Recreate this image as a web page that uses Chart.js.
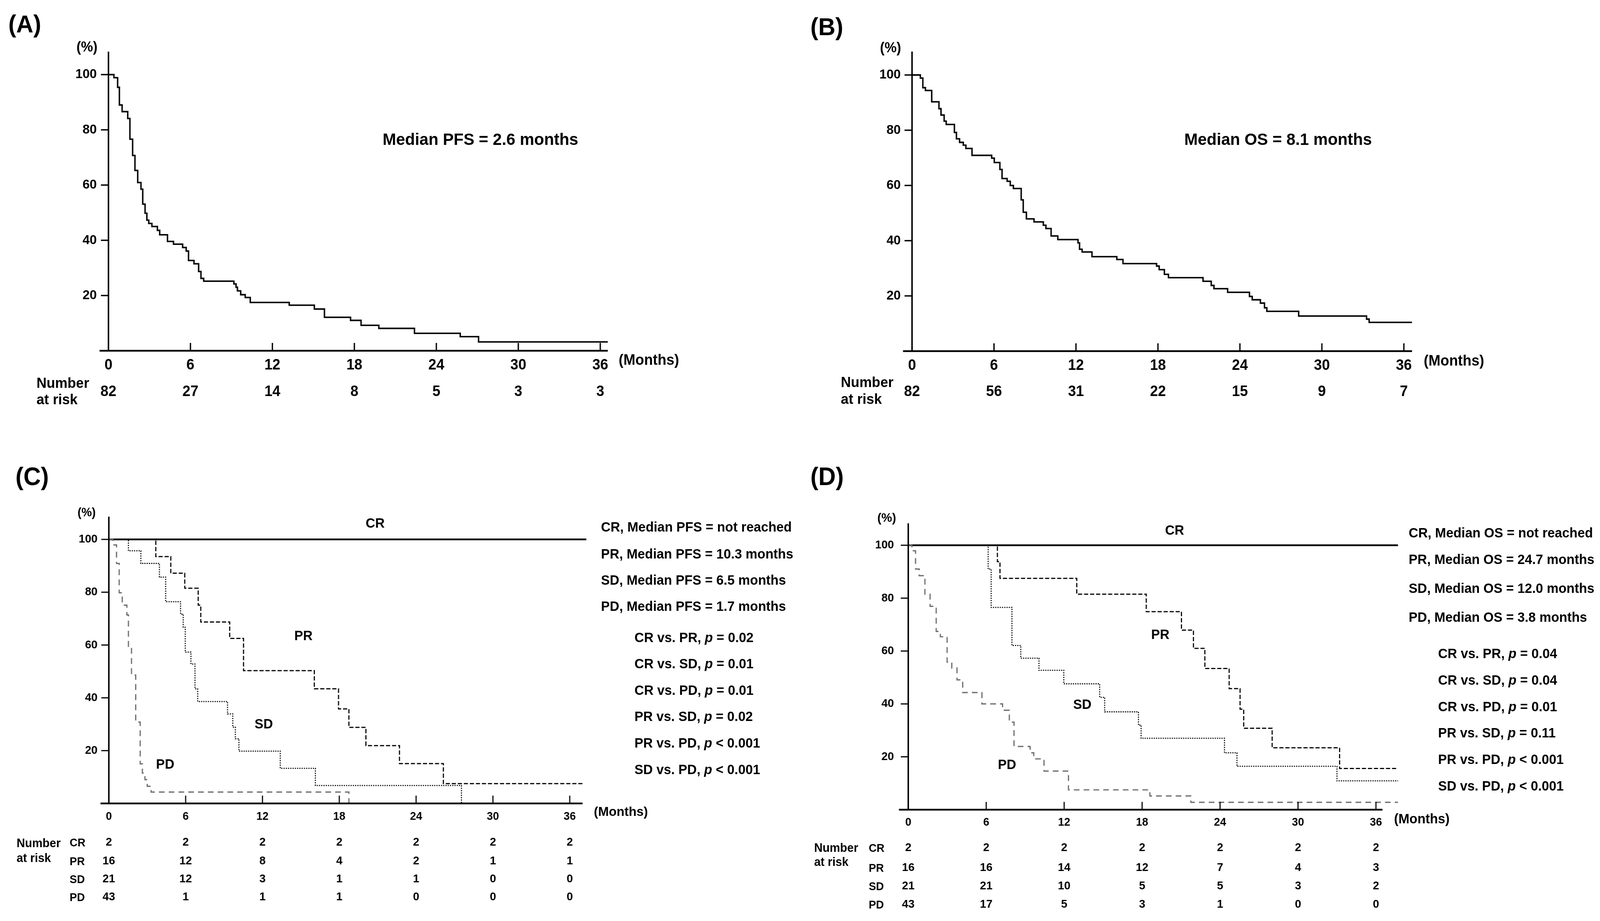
<!DOCTYPE html>
<html>
<head>
<meta charset="utf-8">
<title>Kaplan-Meier curves</title>
<script src="https://cdn.jsdelivr.net/npm/chart.js@4.4.1/dist/chart.umd.min.js"></script>
<style>
  html, body { margin: 0; padding: 0; background: #fff; overflow: hidden; }
  #page { position: relative; width: 4249px; height: 2358px; overflow: hidden; background: #fff; transform-origin: 0 0; }
  #page canvas { position: absolute; }
  .t { position: absolute; font-family: 'Liberation Sans', Arial, sans-serif; font-weight: bold;
       line-height: 1; white-space: nowrap; color: #000; }
</style>
</head>
<body>
<div id="page">
  <canvas id="chartA"></canvas>
  <canvas id="chartB"></canvas>
  <canvas id="chartC"></canvas>
  <canvas id="chartD"></canvas>
</div>
<script>
/* ---------------- data ---------------- */

const TICKS_X = [0, 6, 12, 18, 24, 30, 36];
const TICKS_Y = [20, 40, 60, 80, 100];

// (A) PFS, all patients
const pfsAllTime = [0, 0.40, 0.67, 0.80, 1.00, 1.41, 1.57, 1.77, 1.94, 2.14, 2.38, 2.51, 2.68, 2.81, 2.95,
  3.18, 3.58, 3.75, 4.32, 4.76, 5.43, 5.69, 5.86, 6.26, 6.60, 6.77, 6.97, 9.18, 9.34, 9.44, 9.68,
  10.01, 10.38, 13.23, 15.07, 15.81, 17.72, 18.49, 19.79, 22.40, 25.75, 27.09, 36.55];
const pfsAllSurv = [100, 98.9, 95.4, 89.0, 86.6, 84.1, 76.6, 70.7, 65.3, 60.9, 58.5, 53.1, 49.8, 47.3, 46.1,
  45.0, 43.6, 42.0, 39.6, 38.6, 37.4, 36.1, 32.7, 31.5, 28.7, 26.2, 25.2, 24.2, 23.0, 21.7, 20.3,
  19.3, 17.5, 16.5, 15.1, 12.1, 11.0, 9.2, 8.1, 6.3, 5.1, 3.2, 3.2];
const pfsAllRisk = [82, 27, 14, 8, 5, 3, 3];

// (B) OS, all patients
const osAllTime = [0, 0.61, 0.79, 0.98, 1.44, 1.97, 2.12, 2.35, 2.50, 3.10, 3.25, 3.48, 3.75, 3.94, 4.39,
  5.83, 6.02, 6.43, 6.59, 6.96, 7.19, 7.42, 7.99, 8.14, 8.37, 8.93, 9.61, 9.80, 10.18, 10.67, 12.15,
  12.26, 12.45, 13.17, 14.99, 15.44, 17.90, 18.09, 18.47, 18.77, 21.30, 21.90, 22.10, 23.10, 24.70,
  24.90, 25.50, 25.80, 25.97, 28.30, 33.27, 33.46, 36.60];
const osAllSurv = [100, 98.9, 95.4, 94.4, 90.3, 87.8, 85.5, 83.3, 82.1, 79.2, 76.9, 75.6, 74.6, 73.4, 70.9,
  69.9, 68.3, 65.8, 62.5, 61.5, 60.0, 58.9, 54.8, 50.3, 47.9, 46.8, 45.6, 44.4, 41.7, 40.4, 39.2,
  36.9, 35.9, 34.2, 33.2, 31.7, 30.8, 29.5, 27.8, 26.6, 25.3, 23.8, 22.6, 21.3, 19.8,
  18.6, 17.4, 15.7, 14.4, 12.7, 11.6, 10.4, 10.4];
const osAllRisk = [82, 56, 31, 22, 15, 9, 7];

// (C) PFS by response
const pfsCrTime = [0, 37.3];
const pfsCrSurv = [100, 100];
const pfsPrTime = [0, 3.67, 4.84, 5.93, 6.98, 7.18, 9.44, 10.52, 16.05, 17.94, 18.75, 20.08, 22.70, 26.13, 37.1];
const pfsPrSurv = [100, 93.5, 87.2, 81.5, 75.1, 68.7, 62.5, 50.3, 43.4, 35.8, 28.8, 21.9, 15.1, 7.5, 7.5];
const pfsSdTime = [0, 1.53, 2.50, 3.95, 4.44, 5.60, 5.81, 5.97, 6.41, 6.73, 6.94, 9.27, 9.68, 9.88, 10.16, 13.39, 16.13, 27.54];
const pfsSdSurv = [100, 95.7, 90.9, 85.7, 76.4, 71.7, 66.7, 57.3, 52.8, 43.4, 38.6, 33.9, 28.9, 24.5, 19.8, 13.3, 6.8, 0];
const pfsPdTime = [0, 0.32, 0.60, 0.81, 1.05, 1.41, 1.53, 1.77, 2.10, 2.45, 2.62, 2.82, 3.00, 3.30, 18.75];
const pfsPdSurv = [100, 97.9, 90.9, 79.8, 75.1, 71.4, 59.5, 48.6, 30.8, 15.0, 11.5, 9.0, 6.5, 4.3, 0];
const pfsRiskCr = [2, 2, 2, 2, 2, 2, 2];
const pfsRiskPr = [16, 12, 8, 4, 2, 1, 1];
const pfsRiskSd = [21, 12, 3, 1, 1, 0, 0];
const pfsRiskPd = [43, 1, 1, 1, 0, 0, 0];

// (D) OS by response
const osCrTime = [0, 37.7];
const osCrSurv = [100, 100];
const osPrTime = [0, 6.86, 7.06, 12.97, 18.32, 21.03, 21.95, 22.83, 24.70, 25.54, 25.82, 28.01, 33.20, 37.7];
const osPrSurv = [100, 93.8, 87.5, 81.5, 74.9, 67.9, 61.0, 53.4, 45.8, 38.0, 30.8, 23.4, 15.6, 15.6];
const osSdTime = [0, 6.15, 6.38, 7.98, 8.66, 10.06, 11.97, 14.73, 15.12, 17.72, 17.92, 24.34, 25.30, 33.00, 37.7];
const osSdSurv = [100, 91.0, 76.5, 62.1, 57.3, 52.7, 47.6, 42.5, 37.0, 32.0, 27.0, 21.5, 16.4, 10.9, 10.9];
const osPdTime = [0, 0.28, 0.56, 0.84, 1.28, 1.68, 2.15, 2.47, 2.99, 3.35, 3.75, 4.19, 5.67, 7.26, 7.78, 8.14,
  9.38, 9.66, 10.45, 12.33, 18.60, 21.75, 37.7];
const osPdSurv = [100, 97.9, 91.0, 88.5, 81.5, 76.9, 67.4, 65.4, 55.8, 53.6, 49.1, 44.3, 40.0, 37.6, 33.1, 23.9,
  21.5, 19.2, 14.6, 7.5, 5.2, 2.8, 2.8];
const osRiskCr = [2, 2, 2, 2, 2, 2, 2];
const osRiskPr = [16, 16, 14, 12, 7, 4, 3];
const osRiskSd = [21, 21, 10, 5, 5, 3, 2];
const osRiskPd = [43, 17, 5, 3, 1, 0, 0];

const groups = ['CR', 'PR', 'SD', 'PD'];
const pairs = ['CR vs. PR', 'CR vs. SD', 'CR vs. PD', 'PR vs. SD', 'PR vs. PD', 'SD vs. PD'];
const pfsMedians = ['not reached', '10.3 months', '6.5 months', '1.7 months'];
const osMedians = ['not reached', '24.7 months', '12.0 months', '3.8 months'];
const pfsPValues = ['= 0.02', '= 0.01', '= 0.01', '= 0.02', '< 0.001', '< 0.001'];
const osPValues = ['= 0.04', '= 0.04', '= 0.01', '= 0.11', '< 0.001', '< 0.001'];

/* ---------------- layout (page pixels) ---------------- */

const FONT = '"Liberation Sans", Arial, sans-serif';

// stretch the 4249 x 2358 page over the whole viewport
const vw = document.documentElement.clientWidth || window.innerWidth;
const vh = document.documentElement.clientHeight || window.innerHeight;
const fitX = vw / 4249, fitY = vh / 2358;
if (fitX > 0 && fitY > 0 && (Math.abs(fitX - 1) > 0.002 || Math.abs(fitY - 1) > 0.002)) {
  document.getElementById('page').style.transform = `scale(${fitX}, ${fitY})`;
}

const geoA = { left: 0, top: 0, w: 2100, h: 1150, x0: 288, ppm: 36.28, xMin: -0.65, xMax: 36.55, axisEnd: 36.55,
  y0: 898, ppu: 7.07, yMax: 108.3, yGap: 31, xPad: 15, xFont: 38, yFont: 34, tickLen: 20, axisW: 4, tickW: 3.5,
  riskFont: 38, riskY: [1004] };
const geoB = { left: 2100, top: 0, w: 2149, h: 1150, x0: 2422, ppm: 36.28, xMin: -0.66, xMax: 36.6, axisEnd: 36.6,
  y0: 899, ppu: 7.07, yMax: 108.5, yGap: 30, xPad: 15, xFont: 38, yFont: 34, tickLen: 20, axisW: 4, tickW: 3.5,
  riskFont: 38, riskY: [1004] };
const geoC = { left: 0, top: 1150, w: 2100, h: 1208, x0: 289, ppm: 34.0, xMin: -0.65, xMax: 37.3, axisEnd: 37.0,
  y0: 2057, ppu: 6.76, yMax: 108.6, yGap: 30, xPad: 17, xFont: 29, yFont: 30, tickLen: 20, axisW: 4, tickW: 3,
  riskFont: 30, riskY: [2157, 2205, 2251, 2297] };
const geoD = { left: 2100, top: 1150, w: 2149, h: 1208, x0: 2412, ppm: 34.5, xMin: -0.72, xMax: 37.7, axisEnd: 36.5,
  y0: 2073, ppu: 6.77, yMax: 108.3, yGap: 38, xPad: 16, xFont: 29, yFont: 30, tickLen: 20, axisW: 4, tickW: 3,
  riskFont: 30, riskY: [2171, 2222, 2269, 2316] };

const solidStyle = { borderColor: '#000', borderWidth: 3.8 };
const crStyle = { borderColor: '#000', borderWidth: 4.5 };
const prStyle = { borderColor: '#000', borderWidth: 3, borderDash: [11, 5] };
const sdStyle = { borderColor: '#000', borderWidth: 2.8, borderDash: [3, 3] };
const pdStyle = { borderColor: '#6e6e6e', borderWidth: 3.2, borderDash: [15, 11] };

/* ---------------- helpers ---------------- */

function kmPoints(times, surv) {
  return times.map((t, i) => ({ x: t, y: surv[i] }));
}

function curve(times, surv, style) {
  return Object.assign({
    data: kmPoints(times, surv),
    stepped: 'before',
    pointRadius: 0,
    pointHoverRadius: 0,
    fill: false,
    tension: 0
  }, style);
}

function kmAxes(g, risk, labels) {
  return {
    id: 'kmAxes',
    afterDatasetsDraw(chart) {
      const { ctx, scales: { x, y } } = chart;
      const px0 = x.getPixelForValue(0);
      const py0 = y.getPixelForValue(0);

      ctx.save();
      ctx.strokeStyle = '#000';
      ctx.lineCap = 'butt';

      // axes lines
      ctx.lineWidth = g.axisW;
      ctx.beginPath();
      ctx.moveTo(px0, py0 + g.axisW / 2);
      ctx.lineTo(px0, y.getPixelForValue(g.yMax));
      ctx.stroke();
      ctx.lineWidth = g.axisW + 0.5;
      ctx.beginPath();
      ctx.moveTo(x.getPixelForValue(g.xMin), py0);
      ctx.lineTo(x.getPixelForValue(g.axisEnd), py0);
      ctx.stroke();

      // tick marks: y outward, x inward
      ctx.lineWidth = g.tickW;
      TICKS_Y.forEach(v => {
        const py = y.getPixelForValue(v);
        ctx.beginPath();
        ctx.moveTo(px0 - g.tickLen, py);
        ctx.lineTo(px0, py);
        ctx.stroke();
      });
      TICKS_X.slice(1).forEach(v => {
        const px = x.getPixelForValue(v);
        ctx.beginPath();
        ctx.moveTo(px, py0);
        ctx.lineTo(px, py0 - g.tickLen);
        ctx.stroke();
      });

      // numbers at risk, under each tick
      ctx.fillStyle = '#000';
      ctx.textAlign = 'center';
      ctx.textBaseline = 'middle';
      ctx.font = `bold ${g.riskFont}px ${FONT}`;
      risk.forEach((row, r) => {
        row.forEach((n, i) => ctx.fillText(String(n), x.getPixelForValue(TICKS_X[i]), g.riskY[r] - g.top));
      });

      // curve labels
      ctx.font = `bold 35px ${FONT}`;
      labels.forEach(l => ctx.fillText(l.text, x.getPixelForValue(l.x), y.getPixelForValue(l.y)));
      ctx.restore();
    }
  };
}

function buildChart(id, g, datasets, risk, labels) {
  const canvas = document.getElementById(id);
  canvas.width = g.w;
  canvas.height = g.h;
  canvas.style.left = g.left + 'px';
  canvas.style.top = g.top + 'px';
  canvas.style.width = g.w + 'px';
  canvas.style.height = g.h + 'px';

  const AX_W = 100, AX_H = 60;
  const x0 = g.x0 - g.left;
  const y0 = g.y0 - g.top;
  const chartLeft = x0 + g.xMin * g.ppm;
  const chartRight = x0 + g.xMax * g.ppm;
  const chartTop = y0 - g.yMax * g.ppu;

  return new Chart(canvas, {
    type: 'line',
    data: { datasets },
    options: {
      responsive: false,
      animation: false,
      devicePixelRatio: 1,
      events: [],
      layout: {
        padding: { left: chartLeft - AX_W, right: g.w - chartRight, top: chartTop, bottom: g.h - y0 - AX_H }
      },
      plugins: { legend: { display: false }, tooltip: { enabled: false }, title: { display: false } },
      scales: {
        x: {
          type: 'linear', min: g.xMin, max: g.xMax,
          grid: { display: false, drawTicks: false },
          border: { display: false },
          ticks: { autoSkip: false, maxRotation: 0, padding: g.xPad, color: '#000',
                   font: { family: FONT, size: g.xFont, weight: 'bold' } },
          afterBuildTicks: s => { s.ticks = TICKS_X.map(v => ({ value: v })); },
          afterFit: s => { s.height = AX_H; }
        },
        y: {
          type: 'linear', min: 0, max: g.yMax,
          grid: { display: false, drawTicks: false },
          border: { display: false },
          ticks: { padding: g.xMin * g.ppm + g.yGap, color: '#000',
                   font: { family: FONT, size: g.yFont, weight: 'bold' } },
          afterBuildTicks: s => { s.ticks = TICKS_Y.map(v => ({ value: v })); },
          afterFit: s => { s.width = AX_W; }
        }
      }
    },
    plugins: [kmAxes(g, risk, labels)]
  });
}

function addText(html, left, capY, size, extraStyle) {
  const el = document.createElement('div');
  el.className = 't';
  el.innerHTML = html;
  el.style.left = left + 'px';
  el.style.top = (capY - 0.488 * size) + 'px';
  el.style.fontSize = size + 'px';
  if (extraStyle) Object.assign(el.style, extraStyle);
  document.getElementById('page').appendChild(el);
}

/* ---------------- charts ---------------- */

buildChart('chartA', geoA, [curve(pfsAllTime, pfsAllSurv, solidStyle)], [pfsAllRisk], []);
buildChart('chartB', geoB, [curve(osAllTime, osAllSurv, solidStyle)], [osAllRisk], []);

buildChart('chartC', geoC, [
  curve(pfsPdTime, pfsPdSurv, pdStyle),
  curve(pfsSdTime, pfsSdSurv, sdStyle),
  curve(pfsPrTime, pfsPrSurv, prStyle),
  curve(pfsCrTime, pfsCrSurv, crStyle)
], [pfsRiskCr, pfsRiskPr, pfsRiskSd, pfsRiskPd], [
  { text: 'CR', x: 20.8, y: 105.8 },
  { text: 'PR', x: 15.2, y: 63.2 },
  { text: 'SD', x: 12.1, y: 29.8 },
  { text: 'PD', x: 4.4, y: 14.6 }
]);

buildChart('chartD', geoD, [
  curve(osPdTime, osPdSurv, pdStyle),
  curve(osSdTime, osSdSurv, sdStyle),
  curve(osPrTime, osPrSurv, prStyle),
  curve(osCrTime, osCrSurv, crStyle)
], [osRiskCr, osRiskPr, osRiskSd, osRiskPd], [
  { text: 'CR', x: 20.5, y: 105.4 },
  { text: 'PR', x: 19.4, y: 66.0 },
  { text: 'SD', x: 13.4, y: 39.6 },
  { text: 'PD', x: 7.6, y: 16.8 }
]);

/* ---------------- texts ---------------- */

addText('(A)', 22, 61, 63);
addText('(B)', 2152, 68, 63);
addText('(C)', 41, 1219, 64);
addText('(D)', 2152, 1219, 64);

addText('Median PFS = 2.6 months', 1016, 356, 43);
addText('Median OS = 8.1 months', 3145, 356, 43);

addText('(%)', 203, 120, 36);
addText('(%)', 2337, 122, 36);
addText('(%)', 206, 1311, 31);
addText('(%)', 2330, 1325, 32);

addText('(Months)', 1643, 921, 38);
addText('(Months)', 3781, 923, 38);
addText('(Months)', 1577, 2077, 34);
addText('(Months)', 3702, 2095, 35);

addText('Number', 97, 980, 37);
addText('at risk', 97, 1022, 37);
addText('Number', 2233, 978, 37);
addText('at risk', 2233, 1021, 37);
addText('Number', 44, 2158, 31);
addText('at risk', 44, 2196, 31);
addText('Number', 2162, 2170, 31);
addText('at risk', 2162, 2206, 31);

groups.forEach((gname, i) => {
  addText(gname, 185, geoC.riskY[i], 29);
  addText(gname, 2307, geoD.riskY[i], 29);
});

const statYC = [1348, 1417, 1484, 1551];
const statYD = [1363, 1431, 1505, 1579];
const pairYC = [1631, 1698, 1766, 1833, 1901, 1969];
const pairYD = [1672, 1740, 1808, 1875, 1943, 2011];

groups.forEach((gname, i) => {
  addText(`${gname}, Median PFS = ${pfsMedians[i]}`, 1596, statYC[i], 35);
  addText(`${gname}, Median OS = ${osMedians[i]}`, 3741, statYD[i], 35);
});
pairs.forEach((p, i) => {
  addText(`${p}, <i>p</i> ${pfsPValues[i]}`, 1685, pairYC[i], 35);
  addText(`${p}, <i>p</i> ${osPValues[i]}`, 3819, pairYD[i], 35);
});
</script>
</body>
</html>
